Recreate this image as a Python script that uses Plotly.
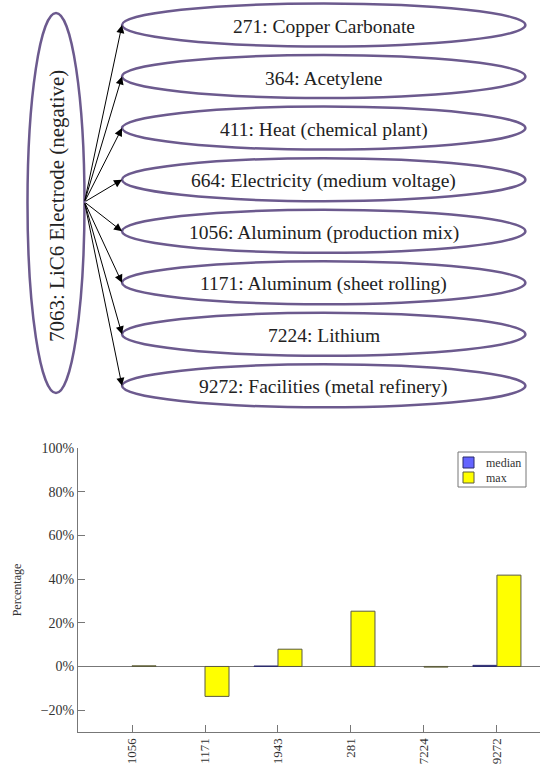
import plotly.graph_objects as go

# ---- data ----
root_label = "7063: LiC6 Electrode (negative)"
child_labels = [
    "271: Copper Carbonate",
    "364: Acetylene",
    "411: Heat (chemical plant)",
    "664: Electricity (medium voltage)",
    "1056: Aluminum (production mix)",
    "1171: Aluminum (sheet rolling)",
    "7224: Lithium",
    "9272: Facilities (metal refinery)",
]
categories = ["1056", "1171", "1943", "281", "7224", "9272"]
series_names = ["median", "max"]
median_vals = [0.0, 0.0, 0.2, 0.0, 0.0, 0.5]
max_vals = [0.3, -13.7, 7.9, 25.3, -0.3, 41.8]
y_ticks = [-20, 0, 20, 40, 60, 80, 100]

W, H = 540, 764
SERIF = "Liberation Serif"
PURPLE = "#6c5a8e"
FILL = ["#6464ff", "#ffff00"]
EDGE = ["#2a2a6a", "#5a5a40"]


def px(x):
    return x / W


def py(y):
    return 1 - y / H


fig = go.Figure()

# ---- bar chart ----
for name, vals, fc, ec in zip(series_names, [median_vals, max_vals], FILL, EDGE):
    fig.add_trace(go.Bar(
        x=categories, y=vals, name=name, showlegend=False,
        marker=dict(color=fc,
                    line=dict(color=ec, width=[1 if v != 0 else 0 for v in vals])),
    ))

# ---- diagram (paper coords from pixel layout) ----
root_cx, root_cy, root_rx, root_ry = 56, 203, 28.5, 190
child_cx, child_rx, child_ry = 323.7, 201.7, 21.5
child_y0, child_dy = 25, 51.55
src_x, src_y = root_cx + root_rx, 202

shapes = []
annotations = []
shapes.append(dict(type="circle", xref="paper", yref="paper",
                   x0=px(root_cx - root_rx), x1=px(root_cx + root_rx),
                   y0=py(root_cy + root_ry), y1=py(root_cy - root_ry),
                   line=dict(color=PURPLE, width=2.5)))
annotations.append(dict(xref="paper", yref="paper", x=px(root_cx + 1),
                        y=py(root_cy + 3), text=root_label, showarrow=False,
                        textangle=-90, xanchor="center", yanchor="middle",
                        font=dict(family=SERIF, size=21, color="#222")))
for i, lab in enumerate(child_labels):
    cy = child_y0 + child_dy * i
    shapes.append(dict(type="circle", xref="paper", yref="paper",
                       x0=px(child_cx - child_rx), x1=px(child_cx + child_rx),
                       y0=py(cy + child_ry), y1=py(cy - child_ry),
                       line=dict(color=PURPLE, width=2.5)))
    annotations.append(dict(xref="paper", yref="paper", x=px(child_cx),
                            y=py(cy + 1.5), text=lab, showarrow=False,
                            xanchor="center", yanchor="middle",
                            font=dict(family=SERIF, size=19.5, color="#222")))
    tip_x = child_cx - child_rx
    annotations.append(dict(xref="paper", yref="paper",
                            x=px(tip_x), y=py(cy),
                            ax=src_x - tip_x, ay=src_y - cy,
                            text="", showarrow=True, arrowhead=2,
                            arrowsize=1.6, arrowwidth=1, arrowcolor="black",
                            standoff=0, startstandoff=0))

# ---- legend (drawn box) ----
leg_x0, leg_x1, leg_y0, leg_y1 = 458, 526, 452, 487
shapes.append(dict(type="rect", xref="paper", yref="paper",
                   x0=px(leg_x0), x1=px(leg_x1), y0=py(leg_y1), y1=py(leg_y0),
                   line=dict(color="#777", width=1), fillcolor="white"))
for k, (name, fc, ec) in enumerate(zip(series_names, FILL, EDGE)):
    sy = 457 + 15 * k
    shapes.append(dict(type="rect", xref="paper", yref="paper",
                       x0=px(463), x1=px(474), y0=py(sy + 11), y1=py(sy),
                       line=dict(color=ec, width=1), fillcolor=fc))
    annotations.append(dict(xref="paper", yref="paper", x=px(484),
                            y=py(sy + 5.5), text=name, showarrow=False,
                            xanchor="left", yanchor="middle",
                            font=dict(family=SERIF, size=12, color="#333")))

plot_left, plot_right = 78, 540
plot_top, plot_bottom = 448, 732

tick_text = [("\u2212" if v < 0 else "") + f"{abs(v)}%" for v in y_ticks]

fig.update_layout(
    width=W, height=H,
    margin=dict(l=0, r=0, t=0, b=0),
    paper_bgcolor="white", plot_bgcolor="rgba(0,0,0,0)",
    barmode="group", bargap=0.342, bargroupgap=0,
    font=dict(family=SERIF, size=14, color="#333"),
    showlegend=False,
    xaxis=dict(domain=[plot_left / W, plot_right / W], type="category",
               range=[-0.74, 5.59], showline=True, linecolor="#777",
               linewidth=1, ticks="inside", ticklen=7, tickcolor="#777",
               tickangle=-90, showgrid=False, zeroline=False,
               automargin=False,
               tickfont=dict(family=SERIF, size=13, color="#333")),
    yaxis=dict(domain=[1 - plot_bottom / H, 1 - plot_top / H],
               range=[-30, 100], tickmode="array", tickvals=y_ticks,
               ticktext=tick_text,
               showline=True, linecolor="#777", linewidth=1,
               ticks="inside", ticklen=7, tickcolor="#777",
               showgrid=False, zeroline=True, zerolinecolor="#777",
               zerolinewidth=1, automargin=False,
               tickfont=dict(family=SERIF, size=14, color="#333"),
               title=dict(text="Percentage", standoff=16,
                          font=dict(family=SERIF, size=12, color="#333"))),
    shapes=shapes,
    annotations=annotations,
)

fig.write_html("out.html")
